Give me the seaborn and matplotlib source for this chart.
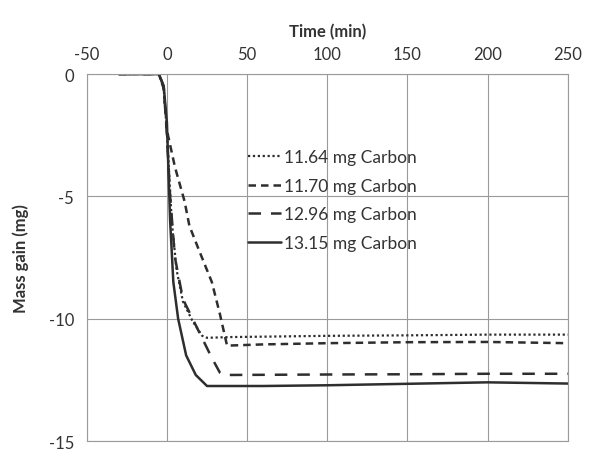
import matplotlib
matplotlib.use("Agg")
import matplotlib.pyplot as plt
import seaborn as sns
import pandas as pd

sns.set_theme(style="white")
plt.rcParams['font.family'] = ['Lato', 'DejaVu Sans']
plt.rcParams['axes.unicode_minus'] = False

# Data (time in min, mass gain in mg)
t_1164 = [-30, -5, -2, 0, 3, 6, 10, 16, 22, 25, 40, 100, 150, 200, 250]
m_1164 = [0, 0, -0.6, -2.4, -6.0, -8.0, -9.3, -10.1, -10.7, -10.78, -10.75, -10.7, -10.68, -10.65, -10.65]

t_1170 = [-30, -5, -2, 0, 5, 11, 14, 20, 28, 33, 37.5, 60, 100, 150, 200, 250]
m_1170 = [0, 0, -0.6, -2.3, -3.8, -5.2, -6.2, -7.2, -8.5, -9.8, -11.1, -11.05, -11.0, -10.96, -10.95, -11.0]

t_1296 = [-30, -5, -2, 0, 2, 5, 10, 16, 22, 28, 33, 36, 100, 150, 200, 250]
m_1296 = [0, 0, -0.5, -2.5, -5.0, -7.5, -9.2, -10.0, -10.8, -11.6, -12.2, -12.3, -12.28, -12.27, -12.25, -12.25]

t_1315 = [-30, -5, -2, 0, 2, 4, 7, 12, 18, 25, 60, 100, 150, 200, 250]
m_1315 = [0, 0, -0.5, -2.0, -6.0, -8.5, -10.0, -11.5, -12.3, -12.75, -12.75, -12.72, -12.66, -12.6, -12.65]

labels = ["11.64 mg Carbon", "11.70 mg Carbon", "12.96 mg Carbon", "13.15 mg Carbon"]
xticks = [-50, 0, 50, 100, 150, 200, 250]
yticks = [0, -5, -10, -15]

series = [(t_1164, m_1164, (0, (1, 1.2)), 1.6),
          (t_1170, m_1170, (0, (3, 2)), 1.8),
          (t_1296, m_1296, (0, (5, 4)), 1.8),
          (t_1315, m_1315, '-', 1.8)]

fig = plt.figure(figsize=(5.94, 4.52), dpi=100)
ax = fig.add_axes([0.146, 0.022, 0.810, 0.812])

col = '#2e2e2e'
for (t, m, ls, lw), lab in zip(series, labels):
    df = pd.DataFrame({'t': t, 'm': m})
    sns.lineplot(data=df, x='t', y='m', ax=ax, color=col, linewidth=lw,
                 linestyle=ls, label=lab, estimator=None, sort=False)

ax.set_xlim(-50, 250)
ax.set_ylim(-15, 0)
ax.set_xticks(xticks)
ax.set_yticks(yticks)
ax.xaxis.tick_top()
ax.xaxis.set_label_position('top')
ax.tick_params(length=0, labelsize=12, colors='#333333', pad=9)
ax.tick_params(axis='y', pad=9)
ax.grid(True, color='#9a9a9a', linewidth=0.8)
for s in ax.spines.values():
    s.set_color('#9a9a9a')
    s.set_linewidth(0.8)
ax.set_xlabel('Time (min)', fontsize=12, fontweight='bold', color='#333333', labelpad=7)
ax.set_ylabel('Mass gain (mg)', fontsize=12, fontweight='bold', color='#333333', labelpad=14)

leg = ax.legend(loc='upper left', bbox_to_anchor=(0.335, 0.795), frameon=False,
                fontsize=12.5, handlelength=1.9, handletextpad=0.2, labelspacing=0.72,
                borderaxespad=0, borderpad=0)
for txt in leg.get_texts():
    txt.set_color('#333333')

fig.savefig('out.png', dpi=100)
